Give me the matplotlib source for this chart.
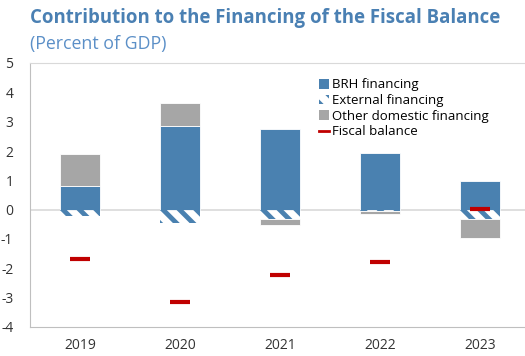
import numpy as np
import matplotlib.pyplot as plt
from matplotlib.patches import Patch
from matplotlib.lines import Line2D
from matplotlib.collections import LineCollection
from matplotlib.transforms import IdentityTransform

# Financing contributions, percent of GDP
years = ["2019", "2020", "2021", "2022", "2023"]
brh_financing = [0.80, 2.85, 2.76, 1.92, 0.97]
external_financing = [-0.20, -0.46, -0.33, -0.06, -0.32]
other_domestic = [1.09, 0.80, -0.18, -0.09, -0.63]
fiscal_balance = [-1.68, -3.16, -2.24, -1.77, 0.02]

BLUE = "#4a81b0"
GRAY = "#a6a6a6"
RED = "#c00000"
TITLE_BLUE = "#4a80b3"

plt.rcParams["font.family"] = ["Open Sans", "DejaVu Sans"]
plt.rcParams["axes.unicode_minus"] = False
plt.rcParams["hatch.linewidth"] = 3.0

fig = plt.figure(figsize=(5.25, 3.56), dpi=100)
ax = fig.add_axes([30 / 525, 29 / 356, 500 / 525, 264 / 356])

x = np.arange(len(years))
w = 0.4

ax.set_xlim(-0.5, len(years) - 0.5)
ax.set_ylim(-4, 5)

brh = np.array(brh_financing)
ext = np.array(external_financing)
oth = np.array(other_domestic)

# stack positives above zero and negatives below it
pos_base = np.where(brh > 0, brh, 0) + np.where(ext > 0, ext, 0)
neg_base = np.where(brh < 0, brh, 0) + np.where(ext < 0, ext, 0)
oth_bottom = np.where(oth >= 0, pos_base, neg_base)

ax.bar(x, brh, w, color=BLUE, edgecolor="white", linewidth=0.6, zorder=3)
ext_bars = ax.bar(x, ext, w, facecolor="none", linewidth=0, zorder=3)
ax.bar(x, oth, w, bottom=oth_bottom, color=GRAY, edgecolor="white", linewidth=0.6, zorder=3)

# wide diagonal stripes for external financing, clipped to each bar
cat_px = ax.transData.transform((1, 0))[0] - ax.transData.transform((0, 0))[0]
step = cat_px / 6
for rect in ext_bars:
    (px0, py0), (px1, py1) = ax.transData.transform(
        [(rect.get_x(), rect.get_y()), (rect.get_x() + rect.get_width(), rect.get_y() + rect.get_height())])
    top = max(py0, py1)
    span = abs(py1 - py0) + 20
    starts = np.arange(px0 + 3 - 3 * step, px1 + step, step)
    segs = [[(s - 10, top + 10), (s + span, top - span)] for s in starts]
    lc = LineCollection(segs, colors=BLUE, linewidths=3.5, transform=IdentityTransform(), zorder=3)
    ax.add_collection(lc, autolim=False)
    lc.set_clip_path(rect)

ax.plot(x, fiscal_balance, linestyle="none", marker="_", markersize=14,
        markeredgewidth=3, color=RED, zorder=4)

ax.axhline(0, color="#d9d9d9", linewidth=1.2, zorder=1)

ax.set_yticks(range(-4, 6))
ax.set_xticks(x)
ax.set_xticklabels(years)
ax.tick_params(axis="both", length=0, labelsize=10, colors="#333333")
ax.tick_params(axis="y", pad=12)
ax.tick_params(axis="x", pad=8)

for side in ["left", "bottom"]:
    ax.spines[side].set_color("#bfbfbf")
ax.spines["top"].set_color("#d9d9d9")
ax.spines["right"].set_visible(False)

handles = [
    Patch(facecolor=BLUE, edgecolor="none"),
    Patch(facecolor="none", edgecolor=BLUE, hatch="\\\\", linewidth=0),
    Patch(facecolor=GRAY, edgecolor="none"),
    Line2D([], [], color=RED, linewidth=2),
]
labels = ["BRH financing", "External financing", "Other domestic financing", "Fiscal balance"]
ax.legend(handles, labels, loc="upper left", bbox_to_anchor=(0.56, 0.977),
          frameon=False, fontsize=9.5, handlelength=0.75, handleheight=0.75,
          handletextpad=0.25, labelspacing=0.2, borderaxespad=0.3)

fig.text(30 / 525, 1 - 18 / 356, "Contribution to the Financing of the Fiscal Balance",
         fontsize=13.4, fontweight="bold", color=TITLE_BLUE, va="center", ha="left")
fig.text(30 / 525, 1 - 44 / 356, "(Percent of GDP)",
         fontsize=12.8, color="#5b8fc7", va="center", ha="left")

fig.savefig("out.png", dpi=100)
